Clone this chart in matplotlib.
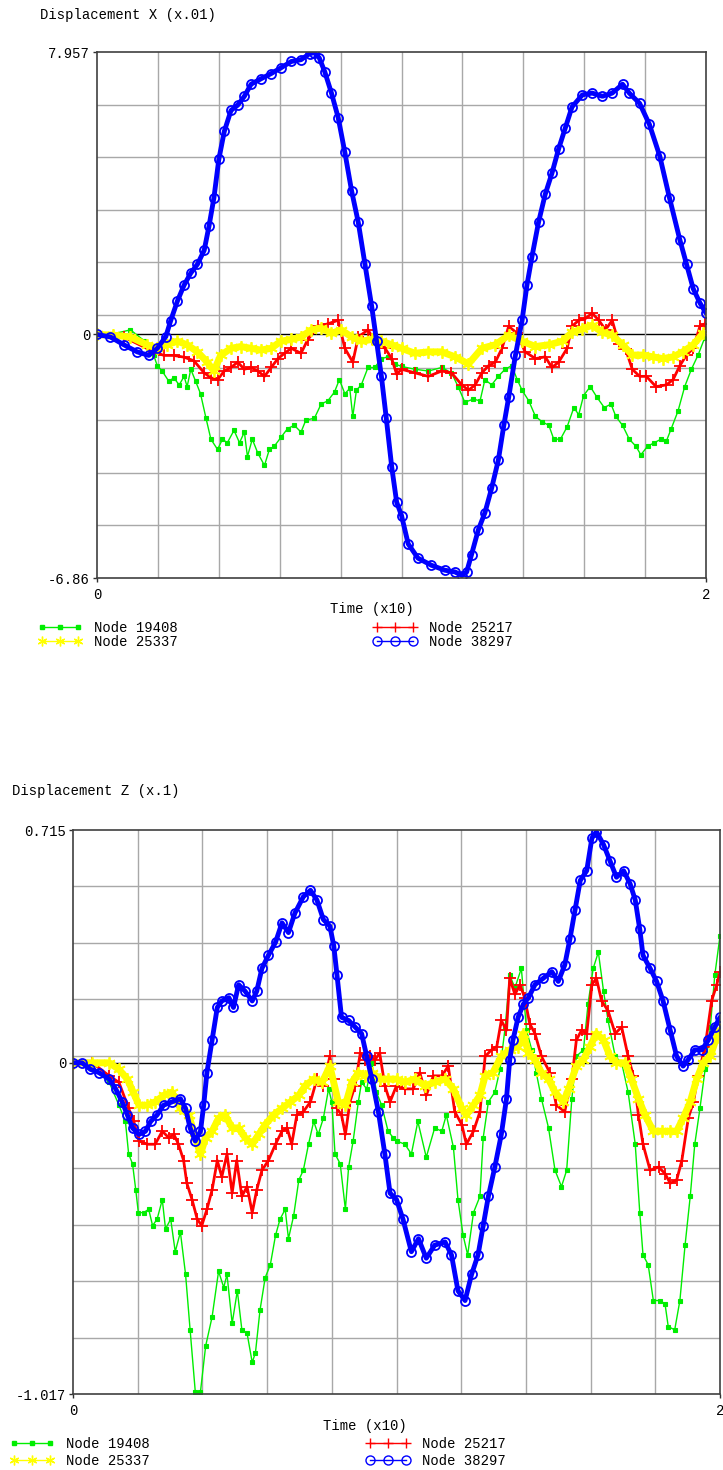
import numpy as np
import matplotlib
matplotlib.use('Agg')
import matplotlib.pyplot as plt
from matplotlib.lines import Line2D
from matplotlib import rcParams

rcParams['font.family'] = ['Liberation Mono', 'DejaVu Sans Mono']
rcParams['font.size'] = 10

# ---------------- Displacement X (x.01) ----------------
x_lim = (-6.86, 7.957)
x_yticklabels = ['-6.86', '0', '7.957']

x_t_19408 = [0, 0.044, 0.11, 0.154, 0.186, 0.198, 0.214, 0.236, 0.252, 0.27, 0.286, 0.296, 0.308, 0.324,
             0.34, 0.358, 0.374, 0.396, 0.412, 0.428, 0.45, 0.468, 0.484, 0.494, 0.51, 0.528, 0.55, 0.566,
             0.582, 0.604, 0.626, 0.648, 0.67, 0.686, 0.714, 0.736, 0.758, 0.78, 0.796, 0.814, 0.83, 0.84,
             0.852, 0.868, 0.89, 0.912, 0.934, 0.956, 0.978, 1.0, 1.044, 1.088, 1.132, 1.164, 1.186, 1.208,
             1.236, 1.258, 1.274, 1.296, 1.318, 1.34, 1.362, 1.38, 1.396, 1.418, 1.44, 1.462, 1.484, 1.5,
             1.522, 1.544, 1.566, 1.582, 1.598, 1.62, 1.642, 1.666, 1.688, 1.704, 1.726, 1.748, 1.77, 1.786,
             1.808, 1.83, 1.852, 1.87, 1.886, 1.908, 1.93, 1.952, 1.974, 1.996]
x_v_19408 = [0, 0, 0.13, -0.17, -0.58, -0.88, -1.03, -1.32, -1.22, -1.42, -1.18, -1.47, -0.98, -1.32,
             -1.67, -2.36, -2.95, -3.24, -2.95, -3.05, -2.70, -3.05, -2.75, -3.44, -2.95, -3.34, -3.69, -3.24,
             -3.15, -2.90, -2.65, -2.56, -2.75, -2.41, -2.36, -1.96, -1.87, -1.62, -1.27, -1.67, -1.52, -2.31,
             -1.57, -1.42, -0.93, -0.93, -0.68, -0.63, -0.83, -0.90, -0.98, -1.03, -0.93, -1.08, -1.47, -1.91,
             -1.82, -1.87, -1.27, -1.42, -1.18, -0.98, -0.88, -1.27, -1.57, -1.87, -2.31, -2.46, -2.56, -2.95,
             -2.95, -2.60, -2.06, -2.26, -1.72, -1.47, -1.77, -2.06, -1.96, -2.31, -2.56, -2.95, -3.15, -3.39,
             -3.15, -3.05, -2.95, -3.00, -2.65, -2.16, -1.47, -0.98, -0.58, -0.09]

x_t_25217 = [0, 0.088, 0.186, 0.22, 0.252, 0.286, 0.318, 0.352, 0.374, 0.396, 0.418, 0.44, 0.462, 0.484,
             0.506, 0.528, 0.55, 0.572, 0.594, 0.616, 0.638, 0.67, 0.692, 0.726, 0.758, 0.792, 0.814, 0.84,
             0.858, 0.89, 0.918, 0.946, 0.968, 0.984, 1.0, 1.044, 1.088, 1.132, 1.164, 1.198, 1.22, 1.242,
             1.264, 1.286, 1.308, 1.33, 1.352, 1.38, 1.406, 1.44, 1.472, 1.494, 1.516, 1.544, 1.56, 1.582,
             1.604, 1.626, 1.648, 1.67, 1.692, 1.714, 1.736, 1.758, 1.782, 1.804, 1.836, 1.87, 1.892, 1.914,
             1.936, 1.958, 1.98, 1.996]
x_v_25217 = [0, -0.07, -0.49, -0.59, -0.59, -0.64, -0.74, -1.08, -1.22, -1.27, -1.03, -0.93, -0.78, -0.98,
             -0.93, -1.03, -1.18, -0.93, -0.68, -0.53, -0.39, -0.53, -0.15, 0.23, 0.30, 0.40, -0.39, -0.78,
             -0.07, 0.13, -0.27, -0.39, -0.68, -1.12, -0.98, -1.08, -1.18, -1.03, -1.08, -1.42, -1.57, -1.42,
             -1.08, -0.88, -0.78, -0.39, 0.23, 0.03, -0.49, -0.68, -0.63, -0.93, -0.78, -0.39, 0.23, 0.40,
             0.45, 0.60, 0.40, 0.13, 0.40, -0.27, -0.42, -0.98, -1.18, -1.18, -1.47, -1.42, -1.27, -0.88,
             -0.58, -0.39, 0.23, 0.30]

x_t_25337 = [0, 0.054, 0.11, 0.164, 0.198, 0.23, 0.264, 0.296, 0.33, 0.362, 0.384, 0.406, 0.44, 0.472,
             0.506, 0.538, 0.572, 0.604, 0.638, 0.67, 0.704, 0.736, 0.77, 0.802, 0.836, 0.868, 0.902, 0.934,
             0.968, 1.0, 1.044, 1.088, 1.132, 1.176, 1.22, 1.264, 1.308, 1.352, 1.396, 1.44, 1.484, 1.528,
             1.56, 1.594, 1.626, 1.66, 1.692, 1.726, 1.758, 1.792, 1.826, 1.858, 1.892, 1.924, 1.958, 1.99]
x_v_25337 = [0, -0.02, -0.07, -0.29, -0.39, -0.29, -0.19, -0.29, -0.49, -0.78, -1.03, -0.59, -0.39, -0.34,
             -0.39, -0.44, -0.39, -0.19, -0.14, -0.07, 0.13, 0.18, 0.03, 0.13, -0.07, -0.19, -0.14, -0.19,
             -0.29, -0.39, -0.53, -0.49, -0.49, -0.63, -0.83, -0.39, -0.29, -0.02, -0.19, -0.34, -0.29, -0.19,
             0.06, 0.16, 0.26, 0.06, -0.02, -0.29, -0.58, -0.58, -0.63, -0.68, -0.63, -0.49, -0.29, 0.03]

x_t_38297 = [0, 0.044, 0.088, 0.132, 0.17, 0.198, 0.226, 0.242, 0.264, 0.286, 0.308, 0.33, 0.352, 0.368,
             0.384, 0.4, 0.418, 0.44, 0.462, 0.484, 0.506, 0.538, 0.572, 0.604, 0.638, 0.67, 0.698, 0.714,
             0.73, 0.748, 0.77, 0.792, 0.814, 0.836, 0.858, 0.88, 0.902, 0.918, 0.934, 0.95, 0.968, 0.984,
             1.0, 1.022, 1.054, 1.098, 1.142, 1.176, 1.198, 1.214, 1.23, 1.252, 1.274, 1.296, 1.318, 1.336,
             1.352, 1.374, 1.396, 1.412, 1.428, 1.45, 1.472, 1.494, 1.516, 1.538, 1.56, 1.594, 1.626, 1.66,
             1.692, 1.726, 1.748, 1.782, 1.814, 1.848, 1.88, 1.914, 1.936, 1.958, 1.98, 2.0]
x_v_38297 = [0, -0.07, -0.29, -0.49, -0.59, -0.39, -0.06, 0.39, 0.94, 1.39, 1.73, 1.98, 2.37, 3.06,
             3.85, 4.93, 5.72, 6.31, 6.46, 6.71, 7.05, 7.20, 7.35, 7.51, 7.69, 7.74, 7.91, 7.94,
             7.79, 7.40, 6.80, 6.11, 5.13, 4.05, 3.16, 1.98, 0.80, -0.18, -1.18, -2.36, -3.74, -4.72,
             -5.10, -5.90, -6.30, -6.50, -6.64, -6.69, -6.79, -6.69, -6.20, -5.51, -5.02, -4.33, -3.54, -2.56,
             -1.77, -0.59, 0.40, 1.39, 2.17, 3.16, 3.95, 4.54, 5.23, 5.82, 6.41, 6.75, 6.80, 6.71,
             6.80, 7.05, 6.80, 6.51, 5.92, 5.03, 3.85, 2.67, 1.98, 1.29, 0.89, 0.60]

# ---------------- Displacement Z (x.1) ----------------
z_lim = (-1.017, 0.715)
z_yticklabels = ['-1.017', '0', '0.715']

z_t_19408 = [0, 0.06, 0.112, 0.142, 0.162, 0.172, 0.184, 0.194, 0.202, 0.218, 0.234, 0.246, 0.26, 0.276,
             0.286, 0.302, 0.316, 0.332, 0.348, 0.362, 0.378, 0.394, 0.41, 0.43, 0.45, 0.466, 0.476, 0.492,
             0.508, 0.522, 0.538, 0.554, 0.564, 0.578, 0.594, 0.61, 0.626, 0.64, 0.656, 0.666, 0.682, 0.698,
             0.712, 0.728, 0.744, 0.758, 0.774, 0.79, 0.8, 0.81, 0.826, 0.842, 0.852, 0.866, 0.882, 0.892,
             0.908, 0.924, 0.938, 0.954, 0.974, 0.99, 1.0, 1.026, 1.046, 1.066, 1.092, 1.118, 1.14, 1.154,
             1.176, 1.19, 1.206, 1.22, 1.238, 1.258, 1.268, 1.284, 1.304, 1.32, 1.336, 1.35, 1.366, 1.386,
             1.402, 1.418, 1.432, 1.448, 1.47, 1.49, 1.51, 1.526, 1.542, 1.556, 1.578, 1.592, 1.608, 1.624,
             1.64, 1.654, 1.676, 1.696, 1.716, 1.738, 1.752, 1.762, 1.778, 1.794, 1.814, 1.83, 1.84, 1.86,
             1.876, 1.892, 1.908, 1.922, 1.938, 1.954, 1.97, 1.984, 2.0]
z_v_19408 = [0, -0.01, -0.06, -0.13, -0.18, -0.28, -0.31, -0.39, -0.46, -0.46, -0.45, -0.50, -0.48, -0.42,
             -0.51, -0.48, -0.58, -0.52, -0.65, -0.82, -1.01, -1.01, -0.87, -0.78, -0.64, -0.69, -0.65, -0.80,
             -0.70, -0.82, -0.83, -0.92, -0.89, -0.76, -0.66, -0.62, -0.53, -0.48, -0.45, -0.54, -0.47, -0.36,
             -0.33, -0.25, -0.18, -0.22, -0.17, -0.08, -0.12, -0.28, -0.31, -0.45, -0.32, -0.24, -0.12, -0.06,
             -0.08, 0.0, -0.09, -0.13, -0.21, -0.23, -0.24, -0.25, -0.28, -0.18, -0.29, -0.20, -0.21, -0.16,
             -0.26, -0.42, -0.53, -0.59, -0.46, -0.41, -0.23, -0.12, -0.09, -0.02, 0.11, 0.27, 0.23, 0.29,
             0.10, 0.04, -0.03, -0.11, -0.20, -0.33, -0.38, -0.33, -0.11, 0.02, 0.04, 0.18, 0.29, 0.34,
             0.22, 0.13, 0.02, 0.0, -0.09, -0.25, -0.46, -0.59, -0.62, -0.73, -0.73, -0.74, -0.81, -0.82,
             -0.73, -0.56, -0.41, -0.25, -0.14, -0.02, 0.11, 0.27, 0.39]

z_t_25217 = [0, 0.06, 0.112, 0.142, 0.172, 0.188, 0.204, 0.23, 0.254, 0.276, 0.296, 0.312, 0.326, 0.342,
             0.352, 0.368, 0.384, 0.398, 0.414, 0.43, 0.446, 0.46, 0.476, 0.492, 0.506, 0.522, 0.538, 0.554,
             0.568, 0.584, 0.604, 0.626, 0.646, 0.662, 0.676, 0.692, 0.712, 0.734, 0.754, 0.774, 0.794, 0.806,
             0.816, 0.83, 0.842, 0.856, 0.872, 0.888, 0.902, 0.918, 0.934, 0.948, 0.964, 0.98, 1.0, 1.026,
             1.052, 1.072, 1.092, 1.114, 1.14, 1.16, 1.18, 1.202, 1.216, 1.238, 1.258, 1.274, 1.294, 1.31,
             1.324, 1.34, 1.35, 1.366, 1.382, 1.396, 1.412, 1.428, 1.448, 1.474, 1.494, 1.52, 1.542, 1.556,
             1.572, 1.588, 1.604, 1.618, 1.634, 1.654, 1.676, 1.696, 1.716, 1.732, 1.748, 1.762, 1.784, 1.81,
             1.83, 1.846, 1.866, 1.882, 1.902, 1.918, 1.932, 1.954, 1.974, 1.99, 2.0]
z_v_25217 = [0, 0.0, -0.04, -0.06, -0.14, -0.18, -0.24, -0.25, -0.25, -0.21, -0.23, -0.22, -0.25, -0.30,
             -0.37, -0.42, -0.48, -0.50, -0.45, -0.39, -0.30, -0.35, -0.28, -0.40, -0.30, -0.41, -0.38, -0.46,
             -0.39, -0.33, -0.30, -0.25, -0.21, -0.20, -0.25, -0.16, -0.15, -0.12, -0.05, -0.07, 0.02, -0.05,
             -0.14, -0.16, -0.22, -0.12, -0.07, 0.03, 0.01, 0.02, 0.01, 0.03, -0.07, -0.12, -0.07, -0.08,
             -0.08, -0.03, -0.10, -0.04, -0.04, -0.01, -0.15, -0.19, -0.25, -0.21, -0.15, 0.02, 0.04, 0.05,
             0.13, 0.10, 0.26, 0.21, 0.24, 0.20, 0.12, 0.09, 0.02, -0.03, -0.13, -0.15, -0.05, 0.07,
             0.10, 0.09, 0.24, 0.26, 0.19, 0.16, 0.09, 0.11, 0.02, -0.04, -0.16, -0.25, -0.33, -0.32,
             -0.34, -0.37, -0.36, -0.30, -0.17, -0.12, -0.04, 0.05, 0.19, 0.24, 0.28]

z_t_25337 = [0, 0.06, 0.112, 0.142, 0.168, 0.186, 0.204, 0.23, 0.254, 0.28, 0.306, 0.332, 0.358, 0.378,
             0.394, 0.41, 0.43, 0.45, 0.47, 0.492, 0.512, 0.532, 0.554, 0.574, 0.594, 0.62, 0.646, 0.672,
             0.698, 0.718, 0.744, 0.77, 0.794, 0.82, 0.842, 0.862, 0.882, 0.902, 0.924, 0.95, 0.974, 1.0,
             1.026, 1.056, 1.088, 1.118, 1.15, 1.176, 1.202, 1.216, 1.238, 1.258, 1.274, 1.298, 1.324, 1.35,
             1.376, 1.392, 1.408, 1.428, 1.448, 1.47, 1.49, 1.516, 1.532, 1.556, 1.578, 1.598, 1.618, 1.64,
             1.66, 1.68, 1.706, 1.726, 1.748, 1.768, 1.794, 1.82, 1.846, 1.866, 1.886, 1.908, 1.928, 1.948,
             1.97, 1.99, 2.0]
z_v_25337 = [0, 0.0, -0.0, -0.02, -0.05, -0.09, -0.13, -0.13, -0.12, -0.10, -0.09, -0.14, -0.16, -0.23,
             -0.28, -0.23, -0.21, -0.17, -0.16, -0.20, -0.20, -0.23, -0.25, -0.22, -0.19, -0.16, -0.14, -0.12,
             -0.10, -0.07, -0.05, -0.06, -0.01, -0.12, -0.13, -0.06, -0.03, -0.04, -0.03, -0.05, -0.05, -0.05,
             -0.06, -0.05, -0.07, -0.06, -0.05, -0.08, -0.14, -0.16, -0.13, -0.10, -0.04, -0.03, 0.02, 0.04,
             0.05, 0.09, 0.03, 0.01, -0.03, -0.05, -0.09, -0.12, -0.08, -0.01, 0.01, 0.05, 0.09, 0.07,
             0.02, -0.0, -0.0, -0.05, -0.11, -0.16, -0.21, -0.21, -0.21, -0.21, -0.17, -0.12, -0.05, -0.0,
             0.02, 0.08, 0.10]

z_t_38297 = [0, 0.028, 0.054, 0.08, 0.112, 0.132, 0.152, 0.168, 0.184, 0.204, 0.224, 0.24, 0.26, 0.28,
             0.306, 0.332, 0.348, 0.362, 0.378, 0.394, 0.404, 0.414, 0.43, 0.446, 0.46, 0.482, 0.496, 0.512,
             0.532, 0.554, 0.568, 0.584, 0.604, 0.626, 0.646, 0.666, 0.686, 0.712, 0.734, 0.754, 0.774, 0.794,
             0.806, 0.816, 0.83, 0.852, 0.872, 0.892, 0.908, 0.924, 0.944, 0.964, 0.98, 1.0, 1.02, 1.046,
             1.068, 1.092, 1.118, 1.15, 1.17, 1.19, 1.212, 1.232, 1.252, 1.268, 1.284, 1.304, 1.324, 1.34,
             1.35, 1.36, 1.376, 1.392, 1.408, 1.428, 1.454, 1.48, 1.5, 1.52, 1.536, 1.552, 1.568, 1.588,
             1.604, 1.618, 1.64, 1.66, 1.68, 1.702, 1.722, 1.738, 1.752, 1.762, 1.784, 1.804, 1.824, 1.846,
             1.866, 1.886, 1.902, 1.922, 1.944, 1.964, 1.984, 2.0]
z_v_38297 = [0, 0.0, -0.02, -0.03, -0.05, -0.08, -0.12, -0.16, -0.20, -0.22, -0.21, -0.18, -0.16, -0.13,
             -0.12, -0.11, -0.14, -0.20, -0.24, -0.21, -0.13, -0.03, 0.07, 0.17, 0.19, 0.20, 0.17, 0.24,
             0.22, 0.19, 0.22, 0.29, 0.33, 0.37, 0.43, 0.40, 0.46, 0.51, 0.53, 0.50, 0.44, 0.42,
             0.36, 0.27, 0.14, 0.13, 0.11, 0.09, 0.02, -0.05, -0.15, -0.28, -0.40, -0.42, -0.48, -0.58,
             -0.54, -0.60, -0.56, -0.55, -0.59, -0.70, -0.73, -0.65, -0.59, -0.50, -0.41, -0.32, -0.22, -0.11,
             0.01, 0.07, 0.14, 0.18, 0.20, 0.24, 0.26, 0.28, 0.25, 0.30, 0.38, 0.47, 0.56, 0.59,
             0.69, 0.71, 0.67, 0.62, 0.57, 0.59, 0.55, 0.50, 0.41, 0.33, 0.29, 0.25, 0.19, 0.10,
             0.02, -0.01, 0.01, 0.04, 0.04, 0.07, 0.11, 0.14]

node_names = ['Node 19408', 'Node 25217', 'Node 25337', 'Node 38297']

# style per node: colour, marker, marker size, band width of the connecting line
styles = {
    'Node 19408': dict(color='#00ee00', marker='s', ms=2.2, mew=0.8, lw=1.0, mfc='#00ee00'),
    'Node 25217': dict(color='#ff0000', marker='+', ms=8, mew=1.3, lw=2.0),
    'Node 25337': dict(color='#ffff00', marker=(6, 2, 0), ms=9, mew=1.3, lw=5.0),
    'Node 38297': dict(color='#0000ff', marker='o', ms=6.5, mew=1.3, lw=3.5, mfc='none'),
}

W, H = 723, 1470
fig = plt.figure(figsize=(W / 100.0, H / 100.0), dpi=100)


def px_box(left, right, top, bottom):
    return [left / W, 1 - bottom / H, (right - left) / W, (bottom - top) / H]


def setup_axes(ax, ylim, yticklabels, xlabel_x):
    ax.set_xlim(0, 2)
    ax.set_ylim(*ylim)
    ax.set_xticks([0, 2])
    ax.set_xticklabels(['0', '2'])
    ax.set_yticks([ylim[0], 0, ylim[1]])
    ax.set_yticklabels(yticklabels)
    ax.set_xticks(np.linspace(0, 2, 11), minor=True)
    ax.set_yticks(np.linspace(ylim[0], ylim[1], 11), minor=True)
    ax.grid(which='minor', color='#a8a8a8', lw=1.0)
    ax.tick_params(which='minor', length=0)
    ax.tick_params(which='major', direction='out', length=3, width=1, colors='#303030',
                   labelcolor='black', labelsize=10)
    ax.tick_params(axis='x', which='major', pad=4)
    ax.tick_params(axis='y', which='major', pad=2)
    ax.axhline(0, color='black', lw=1.0, zorder=1.5)
    for s in ax.spines.values():
        s.set_color('#404040')
        s.set_linewidth(1.2)
    ax.set_xlabel('Time (x10)', fontsize=10)
    ax.xaxis.set_label_coords(xlabel_x, -0.045)


def draw(ax, series):
    for name, t, v in series:
        st = styles[name]
        ax.plot(t, v, color=st['color'], lw=st['lw'], marker=st['marker'], ms=st['ms'],
                mew=st['mew'], mfc=st.get('mfc', st['color']), mec=st['color'],
                solid_joinstyle='round', solid_capstyle='round', zorder=2)


def add_legend(x_left1, x_left2, y_top, rowgap):
    handles = []
    for name in node_names:
        st = styles[name]
        handles.append(Line2D([], [], color=st['color'], lw=1, marker=st['marker'],
                              ms=min(st['ms'], 7), mew=1, mfc=st.get('mfc', st['color']),
                              mec=st['color']))
    cols = [(x_left1, [0, 2]), (x_left2, [1, 3])]
    for xl, idx in cols:
        fig.legend([handles[i] for i in idx], [node_names[i] for i in idx],
                   loc='upper left', bbox_to_anchor=(xl / W, 1 - y_top / H),
                   frameon=False, borderpad=0, borderaxespad=0, numpoints=3,
                   handlelength=3.2, handletextpad=0.85, labelspacing=rowgap,
                   prop={'family': ['Liberation Mono'], 'size': 10})


# top panel
ax1 = fig.add_axes(px_box(97, 706, 52, 578))
setup_axes(ax1, x_lim, x_yticklabels, (372 - 97) / (706 - 97))
draw(ax1, [('Node 19408', x_t_19408, x_v_19408),
           ('Node 25217', x_t_25217, x_v_25217),
           ('Node 25337', x_t_25337, x_v_25337),
           ('Node 38297', x_t_38297, x_v_38297)])
fig.text(40 / W, 1 - 15 / H, 'Displacement X (x.01)', va='center', ha='left', fontsize=10)
add_legend(38, 373, 621, 0.0)

# bottom panel
ax2 = fig.add_axes(px_box(73, 720, 830, 1394))
setup_axes(ax2, z_lim, z_yticklabels, (365 - 73) / (720 - 73))
draw(ax2, [('Node 19408', z_t_19408, z_v_19408),
           ('Node 25217', z_t_25217, z_v_25217),
           ('Node 25337', z_t_25337, z_v_25337),
           ('Node 38297', z_t_38297, z_v_38297)])
fig.text(12 / W, 1 - 791 / H, 'Displacement Z (x.1)', va='center', ha='left', fontsize=10)
add_legend(10, 366, 1437, 0.2)

fig.savefig('out.png', dpi=100)
